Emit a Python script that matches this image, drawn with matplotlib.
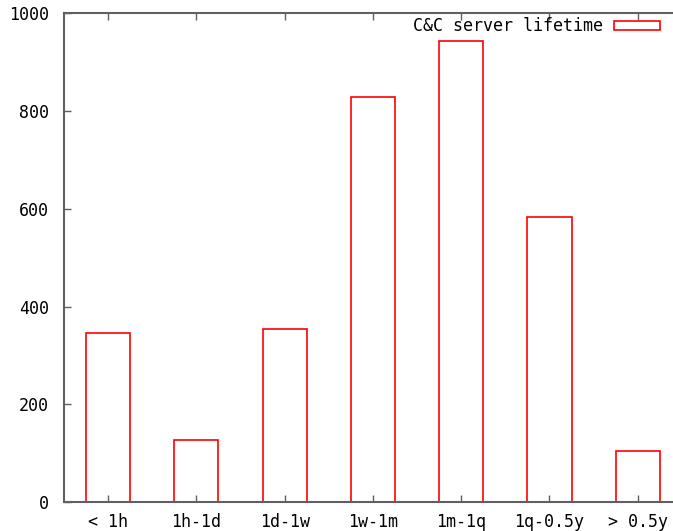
import matplotlib
matplotlib.use("Agg")
import matplotlib.pyplot as plt

categories = ["< 1h", "1h-1d", "1d-1w", "1w-1m", "1m-1q", "1q-0.5y", "> 0.5y"]
values = [347, 127, 354, 828, 942, 583, 105]
yticks = [0, 200, 400, 600, 800, 1000]
series_label = "C&C server lifetime"

plt.rcParams['font.family'] = ['DejaVu Sans Mono']
W, H = 673, 531
fig = plt.figure(figsize=(W / 100, H / 100), dpi=100)
left, right, top, bottom = 64, 726, 13, 502.3
ax = fig.add_axes([left / W, (H - bottom) / H, (right - left) / W, (bottom - top) / H])

x = list(range(len(categories)))
bars = ax.bar(x, values, width=0.5, facecolor='none', edgecolor='#ff0000',
              linewidth=1.2, label=series_label)

ax.set_xlim(-0.5, 7.0)
ax.set_ylim(0, 1000)
ax.set_xticks(x)
ax.set_xticklabels(categories)
ax.set_yticks(yticks)
ax.set_yticklabels([str(v) for v in yticks])

gray = '#606060'
for s in ax.spines.values():
    s.set_color(gray)
    s.set_linewidth(1.5)
ax.tick_params(axis='both', direction='in', length=5, width=1, color=gray,
               labelsize=12, labelcolor='black')
ax.tick_params(axis='x', top=True, pad=8)
ax.tick_params(axis='y', right=True, pad=11)

leg = ax.legend(loc='upper right', bbox_to_anchor=(673.5 / W, (H - 4) / H),
                bbox_transform=fig.transFigure, frameon=False, fontsize=12,
                handlelength=2.75, handleheight=0.45, handletextpad=0.7,
                borderpad=0.3, markerfirst=False)

fig.savefig("out.png", dpi=100)
